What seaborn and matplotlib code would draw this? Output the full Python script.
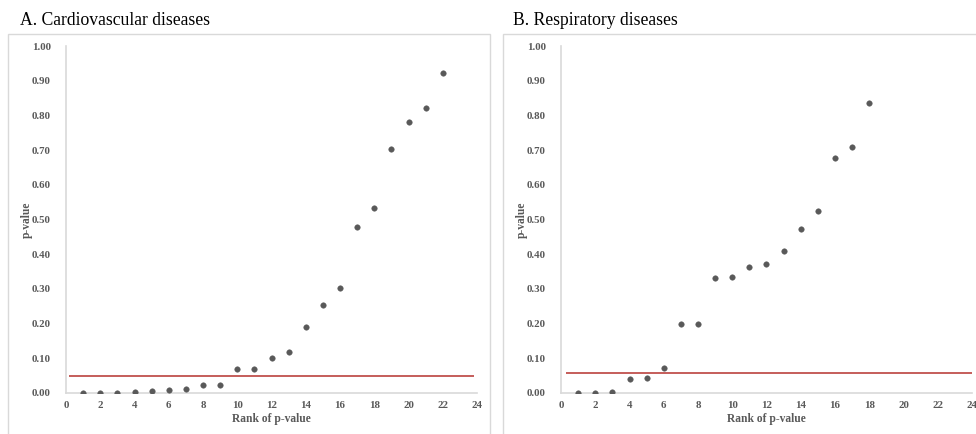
import numpy as np
import pandas as pd
import matplotlib
matplotlib.use("Agg")
import matplotlib.pyplot as plt
from matplotlib.patches import Rectangle
import seaborn as sns

# ---- data ----
rank_a = list(range(1, 23))
pval_a = [0.000, 0.000, 0.001, 0.003, 0.007, 0.010, 0.012, 0.022, 0.024, 0.070, 0.070,
          0.101, 0.119, 0.190, 0.254, 0.304, 0.478, 0.532, 0.704, 0.782, 0.822, 0.921]
rank_b = list(range(1, 19))
pval_b = [0.000, 0.000, 0.003, 0.039, 0.042, 0.071, 0.198, 0.198, 0.331, 0.335, 0.363,
          0.373, 0.409, 0.473, 0.525, 0.676, 0.710, 0.835]
threshold_a = 0.050
threshold_b = 0.058
titles = ["A. Cardiovascular diseases", "B. Respiratory diseases"]
xticks = list(range(0, 25, 2))
yticks = [0.0, 0.1, 0.2, 0.3, 0.4, 0.5, 0.6, 0.7, 0.8, 0.9, 1.0]

sns.set_theme(style="white")
plt.rcParams['font.family'] = ['Liberation Serif', 'DejaVu Serif']

fig = plt.figure(figsize=(9.76, 4.34), dpi=100)
W, H = 976, 434

# panel frames
for x0, x1 in [(8, 490), (503, 990)]:
    fig.patches.append(Rectangle((x0 / W, -0.05), (x1 - x0) / W, (434 - 34) / H + 0.05,
                                 transform=fig.transFigure, fill=False,
                                 edgecolor="#d9d9d9", lw=1.0))

grey = "#595959"
axes_specs = [
    (66, rank_a, pval_a, threshold_a, (0.2, 23.8), 20),
    (561, rank_b, pval_b, threshold_b, (0.3, 24.0), 513),
]
for (ax_left, ranks, pvals, thr, (lx0, lx1), tx), title in zip(axes_specs, titles):
    ax = fig.add_axes([ax_left / W, 1 - 393 / H, 411 / W, (393 - 46) / H])
    df = pd.DataFrame({"rank": ranks, "p": pvals})
    sns.scatterplot(data=df, x="rank", y="p", ax=ax, color=grey, s=16,
                    edgecolor=grey, linewidth=0.3, zorder=3)
    ax.hlines(thr, lx0, lx1, color="#c0504d", lw=1.3, zorder=2)
    ax.set_xlim(0, 24)
    ax.set_ylim(0, 1.0)
    ax.set_xticks(xticks)
    ax.set_yticks(yticks)
    ax.set_yticklabels([f"{v:.2f}" for v in yticks])
    for s in ["top", "right"]:
        ax.spines[s].set_visible(False)
    for s in ["left", "bottom"]:
        ax.spines[s].set_color("#d9d9d9")
        ax.spines[s].set_linewidth(1.2)
    ax.tick_params(axis="both", length=0, labelsize=7.8, labelcolor=grey)
    ax.tick_params(axis="y", pad=11)
    ax.tick_params(axis="x", pad=6)
    for lab in ax.get_xticklabels() + ax.get_yticklabels():
        lab.set_fontweight("bold")
    ax.set_xlabel("Rank of p-value", fontsize=8.3, fontweight="bold", color=grey, labelpad=2)
    ax.set_ylabel("p-value", fontsize=8.3, fontweight="bold", color=grey, labelpad=-1)
    ax.set_facecolor("none")
    fig.text(tx / W, 1 - 25 / H, title, fontsize=12.7, color="black", va="baseline")

fig.savefig("out.png", dpi=100)
